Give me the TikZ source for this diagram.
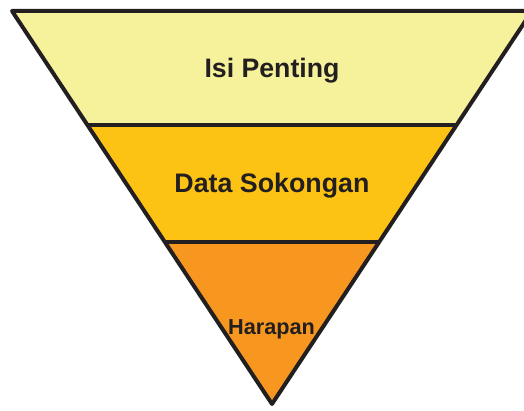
\documentclass[tikz,border=0pt]{standalone}
\usepackage{fontspec}
\setmainfont{Liberation Sans}
\definecolor{bandA}{HTML}{F6F29B}
\definecolor{bandB}{HTML}{FCC314}
\definecolor{bandC}{HTML}{F7971F}
\definecolor{ink}{HTML}{231F20}
\begin{document}
\begin{tikzpicture}[x=1pt,y=-1pt,
  outline/.style={draw=ink,line width=4pt,line join=round,line cap=round},
  divider/.style={draw=ink,line width=3.5pt},
  label/.style={text=ink,font=\bfseries,anchor=base,inner sep=0pt}]
\useasboundingbox (0,0) rectangle (524,411);
\clip (0,0) rectangle (524,411);
\coordinate (TL) at (12,11);
\coordinate (TR) at (532,11);
\coordinate (AP) at (272,404);
\coordinate (L1) at (87.4,125);
\coordinate (R1) at (456.6,125);
\coordinate (L2) at (164.8,242);
\coordinate (R2) at (379.2,242);
\fill[bandA] (TL) -- (TR) -- (R1) -- (L1) -- cycle;
\fill[bandB] (L1) -- (R1) -- (R2) -- (L2) -- cycle;
\fill[bandC] (L2) -- (R2) -- (AP) -- cycle;
\draw[divider] (L1) -- (R1);
\draw[divider] (L2) -- (R2);
\draw[outline] (TL) -- (TR) -- (AP) -- cycle;
\node[label,font=\fontsize{26.7}{30}\selectfont\bfseries] (t1) at (272,77.7) {Isi Penting};
\node[label,font=\fontsize{26.8}{30}\selectfont\bfseries] (t2) at (272,193) {Data Sokongan};
\node[label,font=\fontsize{21.7}{25}\selectfont\bfseries] (t3) at (271.5,334) {Harapan};
\end{tikzpicture}
\end{document}
